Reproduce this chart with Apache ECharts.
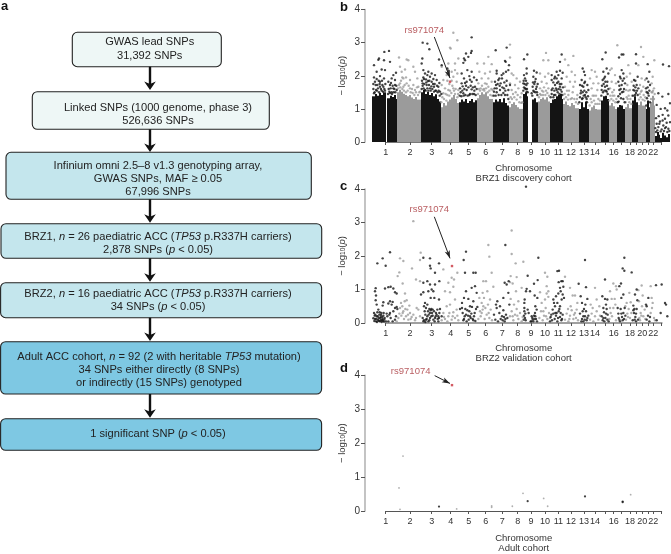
<!DOCTYPE html>
<html><head><meta charset="utf-8">
<style>html,body{margin:0;padding:0;background:#fff}#c{width:671px;height:554px}</style>
<script src="https://cdn.jsdelivr.net/npm/echarts@6/dist/echarts.min.js"></script>
</head><body><div id="c"></div>
<script>
// ---- chromosome axis (genome position, arbitrary units) ----
var chromTicks  = [137,210,275,332,386,437,487,533,573,615,655,693,732,765,795,821,845,870,890,907,925,940,965];
var chromLabels = ['1','2','3','4','5','6','7','8','9','10','11','12','13','14','','16','','18','','20','','22',''];
var snpName = 'rs971074';

// ---- panel b: solid lower mass [start, end, top] ----
var brz1DenseBlack = [
[97,104,1.38],[104,110,1.45],[110,116,1.4],[116,122,1.48],[122,128,1.42],[128,137,1.5],
[142,150,1.32],[150,156,1.4],[156,162,1.36],[162,168,1.42],[168,172,1.3],
[243,250,1.5],[250,256,1.58],[256,262,1.45],[262,268,1.52],[268,274,1.42],[274,280,1.48],[280,286,1.38],[286,292,1.44],[292,298,1.3],[298,302,1.22],
[357,363,1.2],[363,369,1.28],[369,375,1.22],[375,381,1.3],[381,387,1.18],[387,393,1.24],[393,399,1.3],[399,405,1.2],[405,412,1.26],
[459,465,1.2],[465,471,1.28],[471,477,1.22],[477,483,1.3],[483,489,1.2],[489,495,1.32],[495,501,1.18],[501,507,1.1],
[549,555,1.45],[555,560,1.5],[560,565,1.38],
[575,581,1.28],[581,587,1.32],[587,595,1.2],
[630,636,1.18],[636,642,1.28],[642,648,1.3],[648,654,1.38],[654,660,1.42],[660,665,1.46],[665,670,1.3],
[716,722,1.0],[722,728,1.2],[728,734,1.05],[734,740,1.22],[740,747,1.0],
[782,788,1.25],[788,794,1.38],[794,800,1.4],[800,806,1.3],
[831,837,1.05],[837,843,1.12],[843,849,1.1],[849,855,1.0],
[877,883,1.25],[883,889,1.38],[889,895,1.2],
[917,922,1.0],[922,927,1.25],[927,931,1.05]
];
var brz1DenseGray = [
[172,178,1.5],[178,184,1.58],[184,190,1.52],[190,196,1.46],[196,202,1.42],[202,208,1.38],[208,214,1.42],[214,220,1.34],[220,226,1.3],[226,232,1.36],[232,243,1.28],
[302,308,1.05],[308,314,1.18],[314,320,1.1],[320,326,1.22],[326,332,1.28],[332,338,1.34],[338,344,1.42],[344,350,1.3],[350,357,1.18],
[412,418,1.32],[418,424,1.42],[424,430,1.5],[430,436,1.44],[436,442,1.5],[442,448,1.38],[448,459,1.3],
[507,513,1.05],[513,519,1.15],[519,525,1.2],[525,531,1.12],[531,537,1.05],[537,549,1.0],
[595,601,1.22],[601,607,1.3],[607,613,1.34],[613,619,1.28],[619,625,1.35],[625,630,1.22],
[670,676,1.15],[676,682,1.22],[682,688,1.12],[688,694,1.08],[694,700,1.18],[700,706,1.12],[706,716,1.02],
[747,753,.95],[753,759,1.05],[759,765,1.1],[765,771,1.0],[771,782,.98],
[806,812,1.1],[812,818,1.18],[818,824,1.08],[824,831,1.0],
[855,861,1.05],[861,867,1.15],[867,877,1.02],
[895,901,1.12],[901,907,1.22],[907,917,1.1],
[931,936,1.2],[936,941,1.4],[941,945,1.1]
];
var brz1DenseX = [
[945,950,.18],[950,956,.3],[956,960,.22],[960,966,.12],[966,972,.28],[972,978,.2],[978,984,.14],[984,990,.24]
];

// ---- panel b: individual SNPs above the mass [position, -log10 p] ----
var brz1Black = [
[133,2.72],[147,2.75],[150,2.42],[117,2.52],[102,2.32],[132,2.47],[115,2.48],[135,2.17],[110,2.12],[125,2.19],[102,1.95],[120,1.99],[132,1.92],[105,1.82],[120,1.82],[108,1.57],[120,1.67],[130,1.67],[102,1.47],[112,1.72],[125,1.55],[168,2.09],[160,2.02],[150,1.72],[145,1.82],[165,1.87],[155,1.92],[165,1.72],[148,1.52],[160,1.62],[170,1.57],[156,1.45],
[248,3.0],[262,2.97],[268,2.8],[247,2.52],[245,2.37],[297,2.49],[305,2.32],[322,2.22],[325,2.15],[250,2.17],[255,2.07],[265,2.12],[275,2.07],[270,1.97],[250,1.95],[258,1.89],[285,2.02],[275,1.82],[290,1.87],[260,1.72],[248,1.77],[295,1.67],[282,1.67],[270,1.62],[255,1.57],[300,1.52],[286,1.55],[264,1.84],[298,1.78],[304,1.45],
[395,3.16],[395,2.75],[393,2.69],[378,2.67],[372,2.52],[385,2.57],[370,2.39],[375,2.47],[382,2.17],[395,2.12],[365,2.07],[388,1.99],[372,1.92],[402,1.95],[380,1.82],[395,1.82],[365,1.77],[410,1.87],[360,1.62],[405,1.67],[380,1.57],[395,1.59],[370,1.47],[388,1.42],[402,1.45],
[467,2.77],[500,2.85],[470,2.15],[507,2.32],[497,2.42],[495,2.45],[470,2.07],[485,2.02],[498,2.12],[505,2.17],[490,2.07],[475,1.87],[465,1.82],[482,1.77],[500,1.85],[510,1.72],[470,1.62],[492,1.62],[505,1.57],[480,1.57],[462,1.52],[495,1.42],[486,1.92],
[552,2.5],[562,2.64],[560,2.22],[552,2.02],[560,2.07],[555,1.92],[550,1.77],[562,1.77],[555,1.62],[560,1.52],
[582,2.15],[590,2.1],[580,1.97],[585,1.82],[578,1.67],[590,1.67],[582,1.52],[575,1.47],[592,1.42],
[665,2.64],[660,2.42],[650,2.12],[660,2.15],[668,2.09],[635,2.02],[645,1.97],[655,2.02],[665,1.92],[635,1.87],[655,1.82],[645,1.72],[660,1.67],[635,1.57],[665,1.52],[650,1.57],[642,1.42],[658,1.45],
[728,2.22],[732,2.12],[735,2.02],[725,1.87],[735,1.82],[720,1.72],[730,1.67],[742,1.72],[745,1.57],[722,1.47],[735,1.42],[728,1.32],[740,1.3],
[797,2.7],[787,2.5],[800,2.22],[790,2.12],[805,2.07],[795,1.97],[788,1.87],[802,1.82],[795,1.67],[785,1.57],[800,1.52],
[837,2.55],[845,2.64],[850,2.64],[845,2.17],[850,2.07],[840,1.97],[852,1.92],[835,1.82],[845,1.72],[855,1.77],[838,1.57],[850,1.52],[843,1.32],[836,1.22],
[888,2.65],[888,2.37],[893,1.97],[882,1.87],[890,1.72],[880,1.57],[895,1.62],[885,1.42],
[923,2.35],[928,2.12],[920,1.92],[925,1.82],[930,1.72],[918,1.62],[924,1.47],[921,1.32],
[969,2.34],[987,2.29],[955,1.47],[967,1.37],[985,1.45],[990,1.17],[950,1.12],[962,1.0],[975,1.02],[982,.95],[956,.78],[948,.72],[968,.82],[975,.7],[985,.8],[950,.55],[960,.62],[970,.5],[980,.58],[990,.6],[946,.42],[955,.45],[965,.38],[975,.42],[985,.4],[952,.35],[962,.32],[972,.33],[982,.3],[958,.55],[978,.45],[988,.33],[948,.3],[968,.65]
];
var brz1BlackMid = [
[100,1.6],[104,1.5],[107,1.72],[111,1.55],[114,1.62],[117,1.5],[119,1.75],[123,1.6],[127,1.72],[129,1.52],[133,1.6],[136,1.75],[100,1.75],[110,1.9],[116,1.85],[126,1.85],[135,1.55],
[144,1.45],[146,1.6],[150,1.48],[152,1.62],[155,1.5],[158,1.7],[161,1.5],[163,1.6],[166,1.5],[169,1.7],[153,1.78],
[245,1.6],[248,1.7],[251,1.62],[253,1.75],[257,1.55],[259,1.8],[262,1.62],[265,1.55],[267,1.72],[272,1.55],[274,1.68],[277,1.6],[279,1.75],[282,1.52],[284,1.75],[288,1.55],[291,1.7],[293,1.5],[296,1.55],[299,1.4],[246,1.85],[252,1.9],[268,1.85],[280,1.9],[262,2.02],
[359,1.4],[362,1.5],[364,1.38],[367,1.55],[371,1.4],[373,1.6],[376,1.42],[378,1.7],[383,1.4],[385,1.65],[390,1.45],[392,1.7],[397,1.45],[399,1.65],[403,1.55],[407,1.42],[410,1.6],[375,1.78],[390,1.88],[368,1.68],
[461,1.4],[464,1.62],[467,1.4],[470,1.5],[473,1.75],[476,1.42],[479,1.7],[484,1.42],[487,1.65],[490,1.48],[493,1.8],[496,1.55],[499,1.7],[502,1.42],[505,1.3],[478,1.92],[468,1.72],
[550,1.55],[552,1.65],[554,1.75],[557,1.6],[559,1.72],[561,1.6],[563,1.5],[551,1.85],[558,1.85],
[577,1.4],[580,1.55],[583,1.75],[586,1.5],[588,1.6],[591,1.5],[593,1.75],[579,1.8],[587,1.9],
[632,1.35],[635,1.45],[638,1.62],[640,1.35],[643,1.55],[646,1.42],[648,1.62],[651,1.78],[653,1.5],[656,1.6],[659,1.75],[662,1.58],[664,1.75],[667,1.42],[669,1.65],[640,1.8],[650,1.92],[643,1.92],
[718,1.2],[720,1.35],[723,1.55],[726,1.3],[728,1.5],[731,1.4],[733,1.55],[737,1.35],[739,1.5],[741,1.2],[744,1.38],[733,1.78],[726,1.7],
[784,1.4],[786,1.7],[789,1.5],[791,1.75],[793,1.55],[796,1.82],[798,1.55],[801,1.7],[803,1.45],[805,1.6],[792,1.92],
[833,1.2],[835,1.38],[838,1.7],[840,1.45],[842,1.6],[846,1.5],[848,1.85],[850,1.3],[852,1.6],[854,1.2],[842,1.92],
[879,1.4],[881,1.7],[884,1.55],[886,1.65],[888,1.48],[891,1.55],[893,1.42],[886,1.85],
[919,1.1],[921,1.5],[923,1.65],[926,1.4],[928,1.55],[930,1.2]
];
var brz1Gray = [
[177,2.55],[200,2.49],[205,2.47],[180,2.27],[185,2.12],[195,2.19],[225,2.12],[220,2.27],[190,1.92],[210,1.87],[232,1.92],[180,1.77],[200,1.77],[220,1.72],[235,1.67],[190,1.67],[210,1.62],[225,1.57],[240,1.52],[198,1.95],
[340,3.3],[352,3.07],[332,2.82],[305,2.27],[330,2.85],[325,2.37],[345,2.37],[335,2.12],[320,2.02],[345,2.17],[310,1.87],[352,2.07],[305,1.72],[340,1.97],[350,1.82],[315,1.62],[340,1.62],[355,1.57],[325,1.57],[345,1.45],[310,1.47],[355,2.52],
[412,2.37],[432,2.37],[455,2.35],[445,2.57],[418,2.12],[435,2.07],[450,2.12],[425,1.92],[445,1.92],[455,1.82],[415,1.77],[435,1.77],[422,1.62],[445,1.67],[458,1.57],[432,1.6],
[510,2.94],[510,2.55],[515,2.07],[520,2.02],[530,1.92],[510,1.77],[525,1.72],[540,1.82],[515,1.57],[535,1.62],[545,1.47],
[618,2.69],[610,2.47],[625,2.47],[600,2.07],[615,1.97],[625,2.07],[605,1.82],[620,1.77],[600,1.62],[625,1.62],[610,1.52],
[675,2.49],[700,2.6],[685,2.32],[695,2.12],[680,1.97],[705,2.02],[690,1.82],[705,1.82],[675,1.67],[700,1.67],[685,1.42],[712,1.42],
[755,2.17],[765,2.12],[750,1.92],[770,1.97],[760,1.77],[775,1.77],[755,1.62],[772,1.57],[762,1.4],
[832,2.92],[815,2.22],[810,2.17],[825,2.02],[815,1.82],[828,1.77],[810,1.62],[822,1.57],[818,1.4],
[865,2.32],[860,1.97],[870,2.07],[875,1.82],[862,1.72],[870,1.57],[858,1.57],[866,1.4],
[903,2.87],[910,2.57],[895,2.32],[905,1.92],[915,1.87],[900,1.72],[910,1.67],[918,1.52],[903,1.52],
[943,2.47],[938,1.97],[935,1.77],[942,1.62],[937,1.5]
];
var brz1GrayMid = [
[174,1.62],[177,1.72],[181,1.65],[183,1.85],[187,1.6],[192,1.55],[194,1.72],[198,1.5],[203,1.55],[206,1.7],[212,1.5],[216,1.6],[218,1.48],[223,1.42],[228,1.5],[231,1.65],[234,1.42],[238,1.5],[187,1.95],
[304,1.2],[307,1.35],[312,1.3],[317,1.45],[319,1.25],[322,1.42],[328,1.4],[330,1.55],[334,1.48],[337,1.7],[342,1.55],[347,1.6],[352,1.35],[354,1.45],[328,1.75],[322,1.85],[335,1.85],
[414,1.45],[417,1.6],[420,1.55],[426,1.7],[428,1.58],[433,1.55],[438,1.62],[440,1.75],[443,1.5],[448,1.55],[451,1.42],[454,1.6],[457,1.4],
[509,1.2],[512,1.35],[516,1.3],[519,1.45],[523,1.35],[527,1.5],[530,1.28],[533,1.42],[538,1.2],[541,1.35],[544,1.18],[547,1.2],
[597,1.35],[600,1.45],[603,1.42],[606,1.55],[609,1.42],[612,1.65],[616,1.42],[618,1.55],[622,1.48],[627,1.4],
[672,1.3],[674,1.45],[678,1.35],[681,1.55],[684,1.28],[687,1.55],[692,1.3],[696,1.32],[698,1.5],[703,1.3],[708,1.2],[711,1.3],[714,1.15],
[749,1.1],[752,1.3],[755,1.2],[758,1.4],[762,1.25],[766,1.15],[768,1.4],[772,1.15],[775,1.3],[778,1.15],[780,1.25],
[808,1.25],[811,1.4],[814,1.3],[817,1.5],[820,1.25],[823,1.4],[826,1.2],[829,1.3],
[857,1.2],[860,1.35],[863,1.3],[865,1.55],[868,1.2],[871,1.3],[874,1.15],[876,1.4],
[897,1.28],[899,1.45],[902,1.35],[905,1.55],[908,1.28],[911,1.42],[914,1.25],[916,1.35],
[933,1.3],[935,1.5],[939,1.55],[942,1.3],[944,1.45]
];

// ---- panel c ----
var brz2Black = [
[558,4.07],[112,1.78],[128,1.93],[150,2.11],[137,1.71],[270,1.93],[250,1.95],[270,1.71],[297,1.78],[272,1.63],[285,1.5],[378,2.13],[371,1.88],[375,1.5],[400,1.5],[407,1.5],[496,2.33],[595,1.95],[563,1.41],[735,1.88],[853,1.95],[848,1.63],[853,1.56],[875,1.51],[652,1.55],[657,1.56],[795,1.3],
[102,.3],[105,.12],[108,.05],[110,.2],[112,.32],[114,.09],[116,.15],[118,.25],[120,.05],[122,.18],[124,.3],[126,.08],[128,.12],[130,.22],[132,.04],[134,.15],[107,.68],[110,.55],[105,.95],[107,1.04],[108,.82],[130,.62],[128,.52],[135,1.03],[145,1.07],[152,1.08],[160,1.03],[165,.92],[170,.88],[158,.63],[150,.65],[145,.58],[155,.55],[165,.45],[170,.48],[172,.42],[160,.35],[148,.25],[152,.15],[158,.05],[165,.1],[145,.05],[150,.3],[142,.2],[168,.2],[115,.4],[122,.08],[104,.22],[138,.05],[140,.28],[100,.14],[103,.06],[106,.25],[109,.12],[111,.03],[113,.2],[117,.06],[119,.32],[121,.14],[123,.24],[125,.03],[127,.18],[129,.06],[131,.3],[133,.1],
[243,.85],[250,.92],[255,.6],[252,.5],[258,.45],[262,.55],[248,.15],[252,.08],[256,.25],[260,.12],[264,.35],[268,.42],[272,.38],[276,.3],[280,.1],[285,.15],[290,.25],[295,.05],[298,.3],[278,.4],[270,.15],[265,.05],[258,.1],[250,1.2],[262,1.25],[270,1.15],[275,1.0],[280,.95],[285,1.15],[298,1.25],[265,.95],[272,.75],[283,.75],[297,.7],[300,.42],[292,.4],[288,.3],[305,.2],[262,.2],[268,.08],[274,.2],[282,.35],[295,.2],[254,.35],[266,.25],[270,.3],[274,.42],[278,.22],[284,.05],[287,.2],[293,.12],[297,.15],[250,.05],[256,.03],
[368,.3],[372,.12],[376,.42],[380,.05],[384,.22],[388,.35],[392,.15],[396,.48],[400,.08],[404,.3],[408,.42],[366,.45],[374,.2],[386,.1],[394,.28],[402,.2],[378,.95],[372,.75],[385,.72],[390,.5],[400,.65],[395,1.05],[405,1.1],[410,.9],[366,.6],[360,.42],[412,.48],[370,.08],[378,.25],[382,.38],[390,.2],[398,.12],[406,.06],
[462,.25],[466,.1],[470,.45],[474,.05],[478,.3],[482,.12],[486,.2],[490,.38],[494,.05],[498,.25],[502,.15],[472,.65],[468,.55],[490,.75],[494,1.2],[500,1.15],[505,.9],[508,.55],[506,1.25],[480,.5],[488,.08],[492,.18],[496,.12],
[551,.1],[552,.22],[553,.35],[553,.45],[553,.6],[554,.7],[555,.15],[556,.28],[557,.08],[558,.95],[560,1.02],[563,.4],[566,.3],[570,.95],[572,.05],[578,.1],[582,.22],[585,.3],[588,.12],[575,.2],[580,.05],[591,.05],[590,.4],[586,.5],[584,.82],[582,1.17],[593,1.28],[592,.75],[577,.15],[583,.12],[586,.2],[574,.05],
[632,.18],[636,.08],[640,.28],[644,.12],[648,.22],[652,.05],[656,.35],[660,.18],[664,.08],[668,.25],[638,.4],[645,.5],[652,.6],[660,.5],[665,.7],[640,.7],[648,.8],[655,.88],[662,.95],[668,.85],[672,.75],[660,1.05],[664,1.25],[668,1.25],[656,1.22],[670,1.08],[650,.3],[630,.05],[642,.6],[646,.3],[654,.15],[658,.42],[662,.3],[666,.12],[634,.25],
[716,1.17],[722,.8],[726,.6],[730,.2],[734,.1],[738,.35],[742,.15],[724,.05],[728,.35],[732,.42],[736,.55],[740,.08],[745,.22],[742,.72],[738,1.07],[720,.28],[726,.12],[730,.05],[735,.2],
[785,.2],[788,.08],[792,.32],[796,.15],[800,.42],[803,.25],[806,.05],[790,.45],[795,.72],[802,.7],[787,.8],[798,.55],[793,.05],[790,.15],[798,.28],[802,.1],
[835,.28],[838,.1],[842,.42],[846,.18],[850,.3],[854,.45],[833,.45],[840,.05],[848,.08],[850,.85],[843,1.18],[838,1.1],[844,.75],[856,.22],[836,.15],[844,.28],[852,.12],
[878,.08],[882,.3],[886,.18],[890,.42],[894,.1],[880,.38],[888,.05],[892,.68],[890,1.0],[885,.85],[880,.52],[883,.42],[884,.1],[888,.28],
[920,.1],[924,.22],[928,.05],[918,.55],[925,.75],[920,.5],[930,.18],
[948,1.13],[965,1.15],[975,.6],[978,.55],[982,.2],[962,.3],[950,.08]
];
var brz2Gray = [
[220,3.04],[445,2.33],[448,1.98],[515,2.76],[515,2.06],[180,1.93],[190,1.85],[242,2.1],[240,1.88],[527,1.78],[550,1.83],[216,1.63],[178,1.51],[310,1.6],[342,1.3],[352,1.5],[455,1.5],[615,1.5],[173,1.4],[228,1.3],[240,1.25],[335,1.35],[325,1.2],[512,1.4],[530,1.37],[510,1.22],[518,1.18],[622,1.38],[430,1.25],[620,1.1],[625,.95],[675,1.38],[690,1.05],[625,.78],[765,1.05],[828,1.1],[820,1.18],[830,1.0],[810,.95],[905,1.12],[895,.98],[932,1.1],
[175,.15],[180,.45],[183,.6],[187,.5],[190,.35],[194,.65],[198,.2],[202,.4],[205,.1],[188,1.18],[195,.88],[200,.68],[210,.3],[215,.18],[220,.25],[225,.08],[230,.45],[235,.4],[178,.28],[240,.2],[228,.15],[208,.52],[192,.12],[170,.05],[184,.22],[188,.3],[196,.42],[204,.25],[212,.12],
[305,.08],[310,.3],[315,.12],[320,.5],[325,.2],[330,.55],[335,.1],[340,.32],[345,.15],[350,.4],[355,.08],[345,.7],[330,.92],[315,.95],[340,1.08],[322,.05],[352,.22],[328,.3],[338,.2],[312,.18],
[415,.12],[420,.35],[425,.6],[428,.9],[432,.75],[436,.45],[440,.25],[444,.55],[448,.15],[452,.4],[456,.08],[418,.75],[425,.3],[430,.5],[438,1.25],[442,.95],[450,.7],[460,1.08],[434,.12],[446,.3],[422,.2],[428,.4],
[510,.2],[515,.35],[520,.08],[525,.25],[530,.42],[535,.12],[540,.3],[545,.05],[512,.72],[522,.55],[535,.65],[545,1.05],[528,.95],[548,.18],[518,.2],[532,.22],
[598,.15],[603,.35],[608,.08],[612,.22],[617,.45],[622,.12],[627,.3],[605,.6],[615,.7],[620,.88],[600,.92],[630,.15],[610,.35],[618,.2],
[675,.1],[680,.28],[685,.05],[690,.22],[695,.38],[700,.12],[705,.3],[710,.4],[714,.08],[698,.82],[705,.82],[692,.5],[712,.6],[684,.42],[688,.12],[702,.25],[708,.15],
[750,.1],[755,.28],[760,.05],[765,.2],[770,.35],[775,.1],[780,.22],[770,.7],[758,.45],[778,.5],[752,.55],
[808,.12],[812,.3],[816,.2],[820,.45],[824,.72],[828,.08],[815,.72],[826,.55],[810,.45],
[858,.1],[862,.28],[866,.42],[870,.15],[874,.3],[868,.9],[860,.6],[872,.62],[856,.5],[864,.18],
[898,.15],[902,.3],[906,.5],[910,.2],[914,.4],[900,.08],[908,.82],[897,.65],[916,.12],[904,.22],
[932,.3],[935,.75],[938,.6],[942,.15],[936,.45],[945,.08]
];

// ---- panel d ----
var adultBlack = [[297,.13],[563,.29],[735,.43],[848,.28],[848,.26]];
var adultGray  = [[177,.68],[189,1.62],[180,.05],[350,.06],[455,.15],[455,.11],[517,.14],[549,.52],[611,.37],[623,.14],[872,.48]];

// ---- highlighted SNP in each cohort ----
var snpB = [[330,1.82]], snpC = [[336,1.7]], snpD = [[336,3.71]];

// ---- flow chart text ----
var flowTexts = [
 '{n|GWAS lead SNPs}\n{n|31,392 SNPs}',
 '{n|Linked SNPs (1000 genome, phase 3)}\n{n|526,636 SNPs}',
 '{n|Infinium omni 2.5–8 v1.3 genotyping array,}\n{n|GWAS SNPs, MAF ≥ 0.05}\n{n|67,996 SNPs}',
 '{n|BRZ1, }{i|n}{n| = 26 paediatric ACC (}{i|TP53}{n| p.R337H carriers)}\n{n|2,878 SNPs (}{i|p}{n| < 0.05)}',
 '{n|BRZ2, }{i|n}{n| = 16 paediatric ACC (}{i|TP53}{n| p.R337H carriers)}\n{n|34 SNPs (}{i|p}{n| < 0.05)}',
 '{n|Adult ACC cohort, }{i|n}{n| = 92 (2 with heritable }{i|TP53}{n| mutation)}\n{n|34 SNPs either directly (8 SNPs)}\n{n|or indirectly (15 SNPs) genotyped}',
 '{n|1 significant SNP (}{i|p}{n| < 0.05)}'
];

// ---- layout ----
var FONT = '"Liberation Sans", Arial, sans-serif';
var boxes = [
 {x:72.3, y:32.3, w:149, h:34.4, tx:149.7, ty:48.9,  fill:'#eef7f6'},
 {x:32.3, y:91.7, w:237, h:37.6, tx:158,   ty:114.7, fill:'#eef7f6'},
 {x:6,    y:152.3,w:305.3,h:47,  tx:158,   ty:178.8, fill:'#c4e6ed'},
 {x:1,    y:223.7,w:320.7,h:34.6,tx:158,   ty:243.5, fill:'#c4e6ed'},
 {x:0.6,  y:282.7,w:321,  h:35,  tx:158,   ty:300.5, fill:'#c4e6ed'},
 {x:0.6,  y:341.7,w:321,  h:52.3,tx:159,   ty:369.8, fill:'#7ec8e3'},
 {x:0.6,  y:418.7,w:321,  h:31.6,tx:158,   ty:433.8, fill:'#7ec8e3'}
];
var arrows = [[66.7,90],[129.3,152],[199.3,222.7],[258.3,281.7],[317.7,341],[394,417.7]];
var graphics = [];
boxes.forEach(function(b,i){
  graphics.push({type:'rect',silent:true,shape:{x:b.x,y:b.y,width:b.w,height:b.h,r:5},
    style:{fill:b.fill,stroke:'#222',lineWidth:1.1}});
  graphics.push({type:'text',silent:true,x:b.tx,y:b.ty,style:{text:flowTexts[i],align:'center',verticalAlign:'middle',
    rich:{n:{fontFamily:FONT,fontSize:11.1,fill:'#222',lineHeight:13.3},
          i:{fontFamily:FONT,fontSize:11.1,fontStyle:'italic',fill:'#222',lineHeight:13.3}}}});
});
arrows.forEach(function(a){
  var x=150,t=a[1];
  graphics.push({type:'line',silent:true,shape:{x1:x,y1:a[0],x2:x,y2:t-4},style:{stroke:'#111',lineWidth:2.4}});
  graphics.push({type:'polygon',silent:true,shape:{points:[[x-5.8,t-8.5],[x,t-6],[x+5.8,t-8.5],[x,t]]},style:{fill:'#111'}});
});
[['a',1,6],['b',340,7],['c',340,186],['d',340,368]].forEach(function(p){
  graphics.push({type:'text',silent:true,x:p[1],y:p[2],style:{text:p[0],fontFamily:FONT,fontSize:13,fontWeight:'bold',fill:'#111',verticalAlign:'middle'}});
});

// ---- panels ----
var GL=385.67, GW=276, OFF=20.67;
var panels = [
 {top:9.5, h:132.5, gap:21, name:'Chromosome\nBRZ1 discovery cohort', lineColor:'#777', lw:1},
 {top:189, h:134,   gap:20, name:'Chromosome\nBRZ2 validation cohort', lineColor:'#a0a0a0', lw:2},
 {top:375.3,h:144.7,gap:22, name:'Chromosome\nAdult cohort', lineColor:'#555', lw:1}
];
var grids=[],xAxes=[],yAxes=[],series=[];
panels.forEach(function(p,i){
  grids.push({left:GL,width:GW,top:p.top,height:p.h});
  xAxes.push({type:'value',gridIndex:i,min:137,max:965,position:'bottom',splitLine:{show:false},
    name:p.name,nameLocation:'middle',nameGap:p.gap,
    nameTextStyle:{fontFamily:FONT,fontSize:9.5,color:'#333',lineHeight:10},
    axisLine:{show:true,onZero:false,lineStyle:{color:p.lineColor,width:p.lw}},
    axisTick:{show:true,length:3,customValues:chromTicks,lineStyle:{color:'#555'}},
    axisLabel:{show:true,margin:6,customValues:chromTicks,fontFamily:FONT,fontSize:9,color:'#333',hideOverlap:false,
      formatter:function(v){var k=chromTicks.indexOf(v);return k<0?'':chromLabels[k];}}});
  yAxes.push({type:'value',gridIndex:i,min:0,max:4,interval:1,offset:OFF,splitLine:{show:false},
    name:'{a|− log}{s|10}{a|(}{i|p}{a|)}',nameLocation:'middle',nameRotate:90,nameGap:18,
    nameTextStyle:{rich:{a:{fontFamily:FONT,fontSize:9.5,color:'#333'},
      i:{fontFamily:FONT,fontSize:9.5,fontStyle:'italic',color:'#333'},
      s:{fontFamily:FONT,fontSize:6.5,color:'#333',verticalAlign:'bottom',lineHeight:8}}},
    axisLine:{show:true,lineStyle:{color:'#b5b5b5',width:1.6}},
    axisTick:{show:true,length:4,lineStyle:{color:'#555'}},
    axisLabel:{margin:5,fontFamily:FONT,fontSize:10,color:'#333'}});
});
function dots(data,color,g,size){
  return {type:'scatter',data:data,xAxisIndex:g,yAxisIndex:g,symbol:'circle',symbolSize:size||2.4,clip:false,silent:true,
    animation:false,itemStyle:{color:color}};
}
function dense(data,color){
  return {type:'custom',data:data,xAxisIndex:0,yAxisIndex:0,silent:true,animation:false,clip:false,
    encode:{x:[0,1],y:2},
    renderItem:function(params,api){
      var a=api.coord([api.value(0),0]),b=api.coord([api.value(1),api.value(2)]);
      var x0=Math.round(a[0]),x1=Math.round(b[0]);
      return {type:'rect',shape:{x:x0,y:b[1],width:x1-x0,height:a[1]-b[1]},style:{fill:color}};
    }};
}
function callout(g,pt,labelPos,from,to){
  return [
   {type:'scatter',data:pt,xAxisIndex:g,yAxisIndex:g,symbol:'rect',symbolSize:2.4,clip:false,silent:true,animation:false,z:5,itemStyle:{color:'#c8323c'},
    markLine:{silent:true,animation:false,symbol:['none','arrow'],symbolSize:[4,8],label:{show:false},
      lineStyle:{color:'#222',width:1,type:'solid'},
      data:[[{coord:from},{coord:to}]]}},
   {type:'scatter',data:[labelPos],xAxisIndex:g,yAxisIndex:g,symbolSize:0,clip:false,silent:true,animation:false,
    label:{show:true,position:'inside',formatter:snpName,fontFamily:FONT,fontSize:9.5,color:'#a8343a'}}
  ];
}
series.push(dense(brz1DenseGray,'#9b9b9b'),dots(brz1Gray,'#9b9b9b',0),dots(brz1GrayMid,'#9b9b9b',0));
series.push(dense(brz1DenseBlack,'#141414'),dense(brz1DenseX,'#141414'),dots(brz1Black,'#141414',0),dots(brz1BlackMid,'#141414',0));
series.push(dots(brz2Gray,'#9b9b9b',1),dots(brz2Black,'#141414',1));
series.push(dots(adultGray,'#9b9b9b',2,1.8),dots(adultBlack,'#141414',2,2.2));
series=series.concat(callout(0,snpB,[253,3.38],[283,3.17],[330,1.93]));
series=series.concat(callout(1,snpC,[268,3.39],[283,3.17],[330,1.93]));
series=series.concat(callout(2,snpD,[212,4.12],[284,3.99],[330,3.76]));

var chart=echarts.init(document.getElementById('c'),null,{renderer:'canvas'});
chart.setOption({animation:false,backgroundColor:'#fff',graphic:graphics,grid:grids,xAxis:xAxes,yAxis:yAxes,series:series});
</script></body></html>
